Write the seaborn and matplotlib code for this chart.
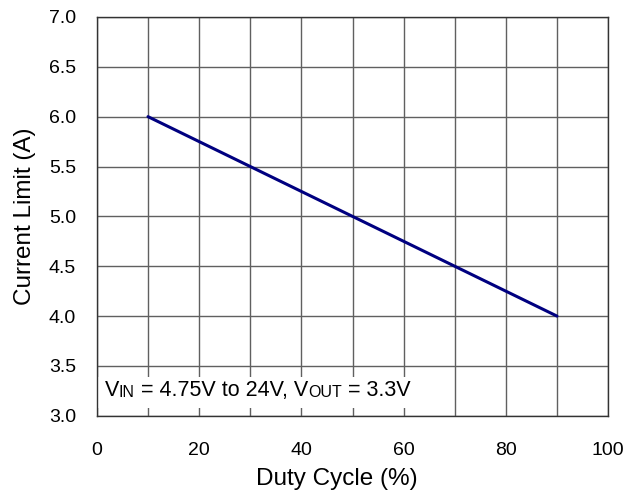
import matplotlib
matplotlib.use("Agg")
import matplotlib.pyplot as plt
import seaborn as sns
import pandas as pd
from matplotlib.patches import Rectangle

# =========================
# Data
# =========================
duty_cycle = [10, 30, 50, 70, 90]
current_limit = [6.0, 5.5, 5.0, 4.5, 4.0]

x_ticks = [0, 20, 40, 60, 80, 100]
y_ticks = [3.0, 3.5, 4.0, 4.5, 5.0, 5.5, 6.0, 6.5, 7.0]

df = pd.DataFrame({"duty": duty_cycle, "ilim": current_limit})

sns.set_style("white")
plt.rcParams["font.family"] = ["Liberation Sans", "DejaVu Sans"]
plt.rcParams["text.color"] = "black"
plt.rcParams["axes.labelcolor"] = "black"
plt.rcParams["xtick.color"] = "black"
plt.rcParams["ytick.color"] = "black"

fig = plt.figure(figsize=(6.25, 4.98), dpi=100)
ax = fig.add_axes([0.155, 0.165, 0.818, 0.801])

sns.lineplot(data=df, x="duty", y="ilim", ax=ax, color="#000080", linewidth=2.2)

ax.set_xlim(0, 100)
ax.set_ylim(3.0, 7.0)
ax.set_xticks(x_ticks)
ax.set_xticks(range(0, 101, 10), minor=True)
ax.set_yticks(y_ticks)
ax.set_yticklabels([f"{v:.1f}" for v in y_ticks])
ax.grid(True, which="both", color="#606060", linewidth=1)
ax.set_axisbelow(True)
ax.tick_params(axis="both", which="both", length=0, labelsize=14)
ax.tick_params(axis="x", pad=19)
ax.tick_params(axis="y", pad=15)

for s in ax.spines.values():
    s.set_color("#333333")
    s.set_linewidth(1)

ax.set_xlabel("Duty Cycle (%)", fontsize=17.5)
ax.set_ylabel("Current Limit (A)", fontsize=17.5, labelpad=9)
ax.xaxis.set_label_coords(0.47, -0.13)

# annotation, subscripts drawn smaller on the same baseline
big, small = 15.5, 11.5
shift = 0.212 * (big - small)
parts = [("IN", small, shift), (" = 4.75V to 24V, V", big, -shift),
         ("OUT", small, shift), (" = 3.3V", big, -shift)]
t = ax.text(1.5, 3.2, "V", fontsize=big, va="baseline", ha="left", zorder=5)
for txt, fs, dy in parts:
    t = ax.annotate(txt, xy=(1, 0), xycoords=t, xytext=(0, dy),
                    textcoords="offset points", va="bottom", ha="left",
                    fontsize=fs, zorder=5)

ax.add_patch(Rectangle((0.3, 3.08), 63.0, 0.31, facecolor="white",
                       edgecolor="none", zorder=2))

fig.savefig("out.png", dpi=100)
